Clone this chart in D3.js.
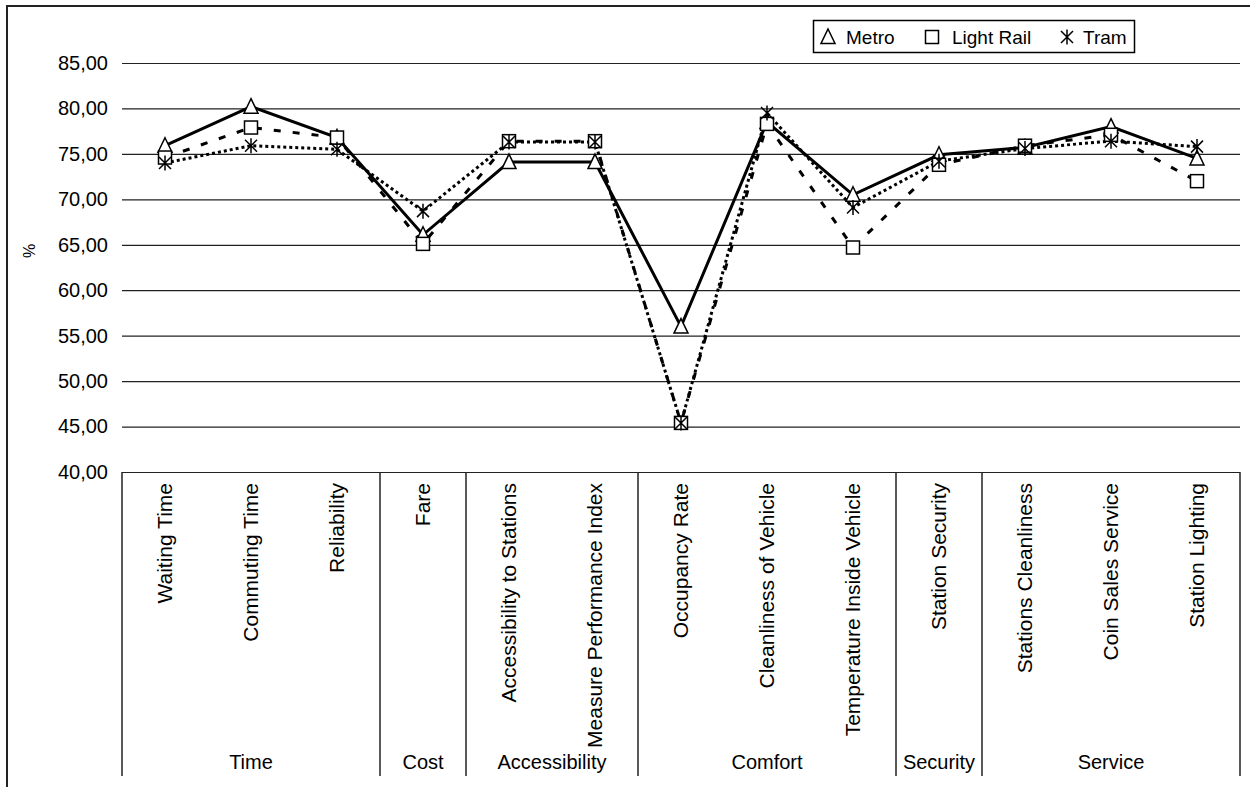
<!DOCTYPE html>
<html>
<head>
<meta charset="utf-8">
<script src="https://cdn.jsdelivr.net/npm/d3@7"></script>
<style>
  body { margin: 0; background: #fff; }
  text { font-family: "Liberation Sans", Arial, sans-serif; fill: #000; }
</style>
</head>
<body>
<div id="wrapper"></div>
<script>
const categories = [
  `Waiting Time`, `Commuting Time`, `Reliability`, `Fare`,
  `Accessibility to Stations`, `Measure Performance Index`,
  `Occupancy Rate`, `Cleanliness of Vehicle`, `Temperature Inside Vehicle`,
  `Station Security`, `Stations Cleanliness`, `Coin Sales Service`, `Station Lighting`,
];
const groups = [`Time`, `Cost`, `Accessibility`, `Comfort`, `Security`, `Service`];
const groupSizes = [3, 1, 2, 3, 1, 3];

const metro = [75.9, 80.2, 76.8, 66.1, 74.1, 74.1, 56.0, 78.5, 70.5, 74.9, 75.7, 78.0, 74.5];
const lightRail = [74.6, 77.9, 76.8, 65.1, 76.4, 76.4, 45.4, 78.3, 64.7, 73.8, 75.9, 77.1, 72.0];
const tram = [74.0, 75.9, 75.5, 68.7, 76.3, 76.3, 45.4, 79.5, 69.1, 74.2, 75.6, 76.4, 75.8];

const yTicks = [40, 45, 50, 55, 60, 65, 70, 75, 80, 85];

const W = 1250, H = 787;
const plot = { left: 122, right: 1240, top: 63, bottom: 472 };

const svg = d3.select(`#wrapper`)
  .append(`svg`)
  .attr(`width`, W)
  .attr(`height`, H);

// outer frame (only left and top edges fall inside the picture)
svg.append(`path`)
  .attr(`d`, `M7,${H} L7,6 L${W},6`)
  .attr(`fill`, `none`)
  .attr(`stroke`, `#222`)
  .attr(`stroke-width`, 2);

const xScale = d3.scaleBand()
  .domain(categories)
  .range([plot.left, plot.right])
  .padding(0);

const yScale = d3.scaleLinear()
  .domain([40, 85])
  .range([plot.bottom, plot.top]);

// gridlines + tick labels
const yAxis = d3.axisLeft(yScale)
  .tickValues(yTicks)
  .tickSize(-(plot.right - plot.left))
  .tickPadding(14)
  .tickFormat(d => d3.format(`.2f`)(d).replace(`.`, `,`));

svg.append(`g`)
  .attr(`transform`, `translate(${plot.left}, 0)`)
  .call(yAxis)
  .call(g => g.select(`.domain`).remove())
  .call(g => g.selectAll(`.tick line`).attr(`stroke`, `#222`).attr(`stroke-width`, 1.2))
  .call(g => g.selectAll(`.tick text`).attr(`font-size`, 20).attr(`font-family`, `"Liberation Sans", Arial, sans-serif`));

svg.append(`text`)
  .attr(`transform`, `translate(29, 251) rotate(-90)`)
  .attr(`text-anchor`, `middle`)
  .attr(`dy`, `0.35em`)
  .attr(`font-size`, 16)
  .text(`%`);

// category box below the plot
const boxBottom = 776;
let bounds = [plot.left];
let idx = 0;
groupSizes.forEach(n => {
  idx += n;
  bounds.push(xScale(categories[idx - 1]) + xScale.bandwidth());
});

const cat = svg.append(`g`);
cat.selectAll(`.sep`)
  .data(bounds)
  .join(`line`)
  .attr(`class`, `sep`)
  .attr(`x1`, d => d).attr(`x2`, d => d)
  .attr(`y1`, plot.bottom).attr(`y2`, boxBottom)
  .attr(`stroke`, `#222`)
  .attr(`stroke-width`, 1.5);

cat.selectAll(`.cat-label`)
  .data(categories)
  .join(`text`)
  .attr(`class`, `cat-label`)
  .attr(`transform`, d => `translate(${xScale(d) + xScale.bandwidth() / 2}, 483) rotate(-90)`)
  .attr(`text-anchor`, `end`)
  .attr(`dy`, `0.35em`)
  .attr(`font-size`, 21)
  .text(d => d);

cat.selectAll(`.group-label`)
  .data(groups)
  .join(`text`)
  .attr(`class`, `group-label`)
  .attr(`x`, (d, i) => (bounds[i] + bounds[i + 1]) / 2)
  .attr(`y`, 769)
  .attr(`text-anchor`, `middle`)
  .attr(`font-size`, 20)
  .text(d => d);

// series
const series = [
  { name: `Metro`, values: metro, dash: null, marker: `triangle` },
  { name: `Light Rail`, values: lightRail, dash: `7,12`, marker: `square` },
  { name: `Tram`, values: tram, dash: `3,3`, marker: `star` },
];

const line = d3.line()
  .x((d, i) => xScale(categories[i]) + xScale.bandwidth() / 2)
  .y(d => yScale(d));

svg.append(`g`)
  .selectAll(`path`)
  .data(series)
  .join(`path`)
  .attr(`d`, d => line(d.values))
  .attr(`fill`, `none`)
  .attr(`stroke`, `#000`)
  .attr(`stroke-width`, 3)
  .attr(`stroke-dasharray`, d => d.dash);

const drawMarker = (sel, type) => {
  if (type === `triangle`) {
    sel.append(`path`)
      .attr(`d`, `M0,-8 L7,6.5 L-7,6.5 Z`)
      .attr(`fill`, `#fff`).attr(`stroke`, `#000`).attr(`stroke-width`, 1.5);
  } else if (type === `square`) {
    sel.append(`rect`)
      .attr(`x`, -6.5).attr(`y`, -6.5).attr(`width`, 13).attr(`height`, 13)
      .attr(`fill`, `#fff`).attr(`stroke`, `#000`).attr(`stroke-width`, 1.5);
  } else {
    sel.append(`path`)
      .attr(`d`, `M-6,-6 L6,6 M6,-6 L-6,6 M0,-7.5 L0,7.5`)
      .attr(`fill`, `none`).attr(`stroke`, `#000`).attr(`stroke-width`, 1.5);
  }
};

series.forEach(s => {
  svg.append(`g`)
    .selectAll(`g`)
    .data(s.values)
    .join(`g`)
    .attr(`transform`, (d, i) => `translate(${xScale(categories[i]) + xScale.bandwidth() / 2}, ${yScale(d)})`)
    .each(function () { drawMarker(d3.select(this), s.marker); });
});

// legend
const legend = svg.append(`g`);
legend.append(`rect`)
  .attr(`x`, 813.5).attr(`y`, 20.5).attr(`width`, 321).attr(`height`, 32)
  .attr(`fill`, `#fff`).attr(`stroke`, `#000`).attr(`stroke-width`, 1.5);

const legendPos = [
  { mx: 828, tx: 846 },
  { mx: 932, tx: 952 },
  { mx: 1067, tx: 1083 },
];

series.forEach((s, i) => {
  const g = legend.append(`g`).attr(`transform`, `translate(${legendPos[i].mx}, 37)`);
  drawMarker(g, s.marker);
  legend.append(`text`)
    .attr(`x`, legendPos[i].tx)
    .attr(`y`, 37)
    .attr(`dy`, `0.35em`)
    .attr(`font-size`, 19)
    .text(s.name);
});
</script>
</body>
</html>
